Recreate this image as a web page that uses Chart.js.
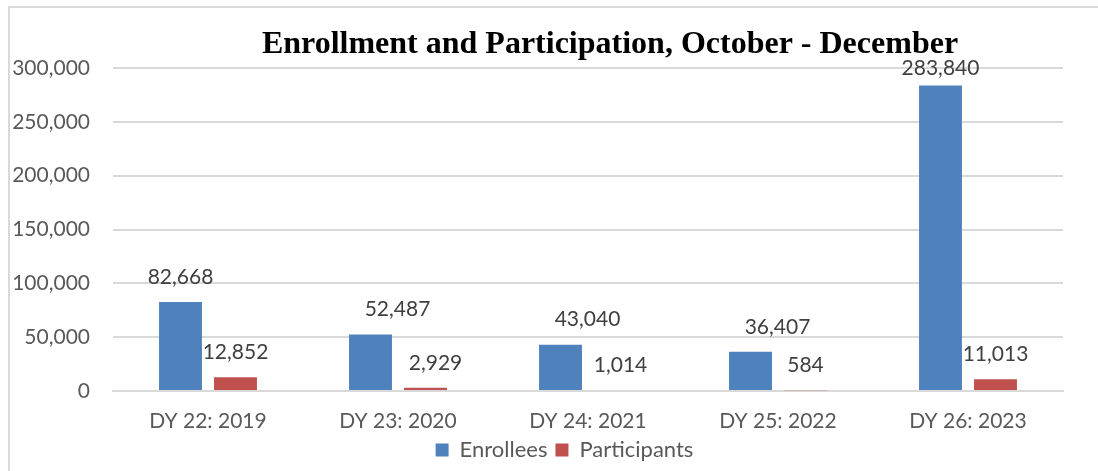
<!DOCTYPE html>
<html>
<head>
<meta charset="utf-8">
<script src="https://cdn.jsdelivr.net/npm/chart.js@4.4.0/dist/chart.umd.min.js"></script>
<style>
  html, body { margin: 0; padding: 0; background: #ffffff; width: 1098px; height: 471px; overflow: hidden; }
  #frame { position: absolute; left: 8px; top: 6px; width: 1090px; height: 465px; border-left: 2px solid #d9d9d9; border-top: 2px solid #d9d9d9; box-sizing: border-box; }
  #c { position: absolute; left: 0; top: 0; }
</style>
</head>
<body>
<div id="frame"><canvas id="c" width="1088" height="463" style="width:1088px;height:463px"></canvas></div>
<script>
const categories = ['DY 22: 2019', 'DY 23: 2020', 'DY 24: 2021', 'DY 25: 2022', 'DY 26: 2023'];
const enrollees = [82668, 52487, 43040, 36407, 283840];
const participants = [12852, 2929, 1014, 584, 11013];
const yTicks = [0, 50000, 100000, 150000, 200000, 250000, 300000];
const titleText = 'Enrollment and Participation, October - December';

// label horizontal nudges (px), as placed in the original
const labelShift = [[0, 27, 27, 27, 0], [0, 10, 5, 0, 0]];

const fmt = v => v.toLocaleString('en-US');

const labelPlugin = {
  id: 'barLabels',
  afterDatasetsDraw(chart) {
    const ctx = chart.ctx;
    const area = chart.chartArea;
    ctx.save();
    ctx.font = '21px Lato';
    ctx.fillStyle = '#404040';
    ctx.textAlign = 'center';
    ctx.textBaseline = 'middle';
    chart.data.datasets.forEach((ds, di) => {
      const meta = chart.getDatasetMeta(di);
      meta.data.forEach((bar, i) => {
        const y = Math.max(bar.y - 25, area.top);
        ctx.fillText(fmt(ds.data[i]), bar.x + labelShift[di][i], y);
      });
    });
    ctx.restore();
  }
};

const titlePlugin = {
  id: 'overTitle',
  afterLayout(chart) {
    if (chart.legend) { chart.legend.left += 56; }
  },
  afterDraw(chart) {
    const ctx = chart.ctx;
    ctx.save();
    ctx.font = 'bold 32px "Liberation Serif"';
    ctx.fillStyle = '#000000';
    ctx.textAlign = 'center';
    ctx.textBaseline = 'alphabetic';
    ctx.fillText(titleText, 600, 45);
    ctx.restore();
  }
};

new Chart(document.getElementById('c'), {
  type: 'bar',
  data: {
    labels: categories,
    datasets: [
      { label: 'Enrollees', data: enrollees, backgroundColor: '#4f81bd', categoryPercentage: 0.579, barPercentage: 0.78 },
      { label: 'Participants', data: participants, backgroundColor: '#c0504d', categoryPercentage: 0.579, barPercentage: 0.78 }
    ]
  },
  options: {
    responsive: false,
    animation: false,
    devicePixelRatio: 1,
    layout: { padding: { top: 60, right: 35, left: 0, bottom: 0 } },
    plugins: {
      legend: {
        position: 'bottom',
        labels: { font: { family: 'Lato', size: 22 }, color: '#595959', boxWidth: 13, boxHeight: 13, padding: 8 }
      },
      title: { display: false },
      tooltip: { enabled: false }
    },
    scales: {
      x: {
        grid: { display: false, drawTicks: false },
        border: { display: true, color: '#d9d9d9', width: 2 },
        ticks: { font: { family: 'Lato', size: 21 }, color: '#595959', padding: 18 },
        afterFit(s) { s.height = 40; }
      },
      y: {
        min: 0, max: 300000,
        afterBuildTicks(s) { s.ticks = yTicks.map(v => ({ value: v })); },
        grid: { color: '#d9d9d9', lineWidth: 2, drawTicks: false },
        border: { display: false },
        ticks: { font: { family: 'Lato', size: 21 }, color: '#595959', padding: 23, callback: v => fmt(v) },
        afterFit(s) { s.width = 103; }
      }
    }
  },
  plugins: [labelPlugin, titlePlugin]
});
</script>
</body>
</html>
